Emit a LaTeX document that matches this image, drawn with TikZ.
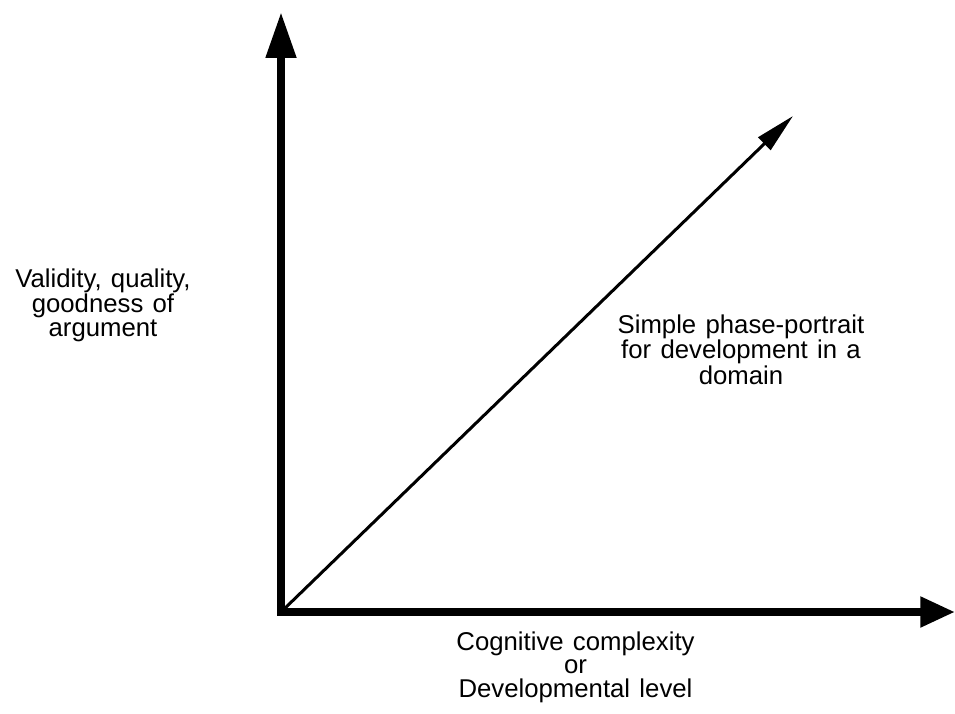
\documentclass[tikz,border=0pt]{standalone}
\usepackage{fontspec}
\setmainfont[WordSpace=1.3]{Liberation Sans}
\usetikzlibrary{arrows.meta}
\begin{document}
\begin{tikzpicture}[x=0.75pt, y=-0.75pt,
  axis/.style={line width=6pt, line join=miter, line cap=butt},
  trend/.style={line width=2.25pt},
  caption/.style={font=\fontsize{19.3}{17.5}\selectfont, align=center, inner sep=0pt, anchor=base}]
\useasboundingbox (0,0) rectangle (955,713);
% axis ends and the common origin
\coordinate (O) at (281,612);
\coordinate (ytip) at (281,12);
\coordinate (xtip) at (955,612);
\coordinate (dtip) at (793,116);
% development path
\draw[trend, -{Triangle[length=30pt, width=13pt]}] (O) -- (dtip);
% axes
\draw[axis, {Triangle[length=34.5pt, width=21.75pt]}-{Triangle[length=26pt, width=21.75pt]}]
  (ytip) -- (O) -- (xtip);
% axis and curve labels (anchored at the baseline of the last line)
\node[caption] (ylabel) at (103,336) {Validity, quality,\\goodness of\\argument};
\node[caption] (dlabel) at (741,384) {Simple phase-portrait\\for development in a\\domain};
\node[caption] (xlabel) at (575.5,697) {Cognitive complexity\\or\\Developmental level};
\end{tikzpicture}
\end{document}
